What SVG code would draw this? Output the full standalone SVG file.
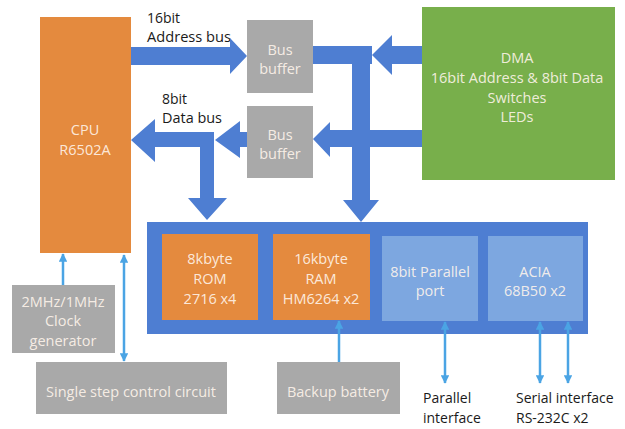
<svg xmlns="http://www.w3.org/2000/svg" width="625" height="429" viewBox="0 0 625 429">
<defs>
<style>
.orange{fill:#E48A3E}
.gray{fill:#A9A9A9}
.green{fill:#78AF4B}
.blue{fill:#4E7ED2}
.lblue{fill:#7DA7E0}
.bus{fill:#4E7ED2}
.in{font-family:"Open Sans","Liberation Sans",sans-serif;font-size:14.5px;fill:#FFF5EC;fill-opacity:0.9;text-anchor:middle}
.lbl{font-family:"Open Sans","Liberation Sans",sans-serif;font-size:14px;fill:#1a1a1a}
.thin{stroke:#4BA4E4;stroke-width:2.5;fill:none}
</style>
<marker id="ah" viewBox="0 0 10 10" refX="9" refY="5" markerWidth="3.4" markerHeight="3.4" orient="auto-start-reverse">
<path d="M0,0 L10,5 L0,10 z" fill="#4BA4E4"/>
</marker>
</defs>
<rect width="625" height="429" fill="#ffffff"/>

<g id="labels">
<text class="lbl" x="147" y="23">16bit</text>
<text class="lbl" x="147" y="42" textLength="84" lengthAdjust="spacingAndGlyphs">Address bus</text>
<text class="lbl" x="162" y="104">8bit</text>
<text class="lbl" x="162" y="123" textLength="60" lengthAdjust="spacingAndGlyphs">Data bus</text>
<text class="lbl" x="423" y="403">Parallel</text>
<text class="lbl" x="423" y="423">interface</text>
<text class="lbl" x="516" y="403">Serial interface</text>
<text class="lbl" x="516" y="423">RS-232C x2</text>
</g>

<g id="cpu">
<rect class="orange" x="40" y="17" width="91" height="236"/>
<text class="in" x="85" y="135">CPU</text>
<text class="in" x="85" y="155">R6502A</text>
</g>

<g id="bus-buffer-1">
<rect class="gray" x="247" y="20" width="66" height="73"/>
<text class="in" x="280" y="55">Bus</text>
<text class="in" x="280" y="74">buffer</text>
</g>

<g id="bus-buffer-2">
<rect class="gray" x="247" y="106" width="66" height="72"/>
<text class="in" x="280" y="140">Bus</text>
<text class="in" x="280" y="159">buffer</text>
</g>

<g id="dma">
<rect class="green" x="422" y="7" width="193" height="173"/>
<text class="in" x="517" y="63">DMA</text>
<text class="in" x="517" y="83">16bit Address &amp; 8bit Data</text>
<text class="in" x="517" y="103">Switches</text>
<text class="in" x="517" y="122">LEDs</text>
</g>

<g id="memory-io">
<rect class="blue" x="147" y="222" width="441" height="112"/>
</g>

<g id="rom">
<rect class="orange" x="162" y="234" width="96" height="86"/>
<text class="in" x="210" y="264">8kbyte</text>
<text class="in" x="210" y="284">ROM</text>
<text class="in" x="210" y="304">2716 x4</text>
</g>

<g id="ram">
<rect class="orange" x="273" y="234" width="97" height="86"/>
<text class="in" x="321" y="264">16kbyte</text>
<text class="in" x="321" y="284">RAM</text>
<text class="in" x="321" y="304">HM6264 x2</text>
</g>

<g id="parallel-port">
<rect class="lblue" x="382" y="236" width="96" height="85"/>
<text class="in" x="430" y="277">8bit Parallel</text>
<text class="in" x="430" y="296">port</text>
</g>

<g id="acia">
<rect class="lblue" x="488" y="236" width="95" height="85"/>
<text class="in" x="535" y="277">ACIA</text>
<text class="in" x="535" y="296">68B50 x2</text>
</g>

<g id="clock">
<rect class="gray" x="12" y="285" width="103" height="68"/>
<text class="in" x="63" y="307">2MHz/1MHz</text>
<text class="in" x="63" y="326">Clock</text>
<text class="in" x="63" y="346">generator</text>
</g>

<g id="single-step">
<rect class="gray" x="36" y="362" width="191" height="52"/>
<text class="in" x="131" y="397">Single step control circuit</text>
</g>

<g id="backup-battery">
<rect class="gray" x="277" y="362" width="123" height="52"/>
<text class="in" x="338" y="397">Backup battery</text>
</g>

<g id="connectors">
<polygon class="bus" points="131,47 230,47 230,38 247,56 230,74 230,65 131,65"/>
<polygon class="bus" points="313,46 372,46 372,64 370,64 370,200 379,200 361,222 343,200 352,200 352,64 313,64"/>
<polygon class="bus" points="422,46 392,46 392,35 372,55 392,75 392,64 422,64"/>
<polygon class="bus" points="422,130 330,130 330,122 313,139 330,157 330,147 422,147"/>
<polygon class="bus" points="247,132 240,132 240,121 215,140 240,158 240,147 247,147"/>
<polygon class="bus" points="214,132 155,132 155,119 131,140 155,162 155,147 200,147 200,198 188,198 207,220 227,198 214,198"/>
<line class="thin" x1="63" y1="285" x2="63" y2="254" marker-end="url(#ah)"/>
<line class="thin" x1="124" y1="255" x2="124" y2="361" marker-start="url(#ah)" marker-end="url(#ah)"/>
<line class="thin" x1="339" y1="362" x2="339" y2="321" marker-end="url(#ah)"/>
<line class="thin" x1="445" y1="322" x2="445" y2="383" marker-start="url(#ah)" marker-end="url(#ah)"/>
<line class="thin" x1="540" y1="322" x2="540" y2="383" marker-start="url(#ah)" marker-end="url(#ah)"/>
<line class="thin" x1="568" y1="322" x2="568" y2="383" marker-start="url(#ah)" marker-end="url(#ah)"/>
</g>
</svg>
